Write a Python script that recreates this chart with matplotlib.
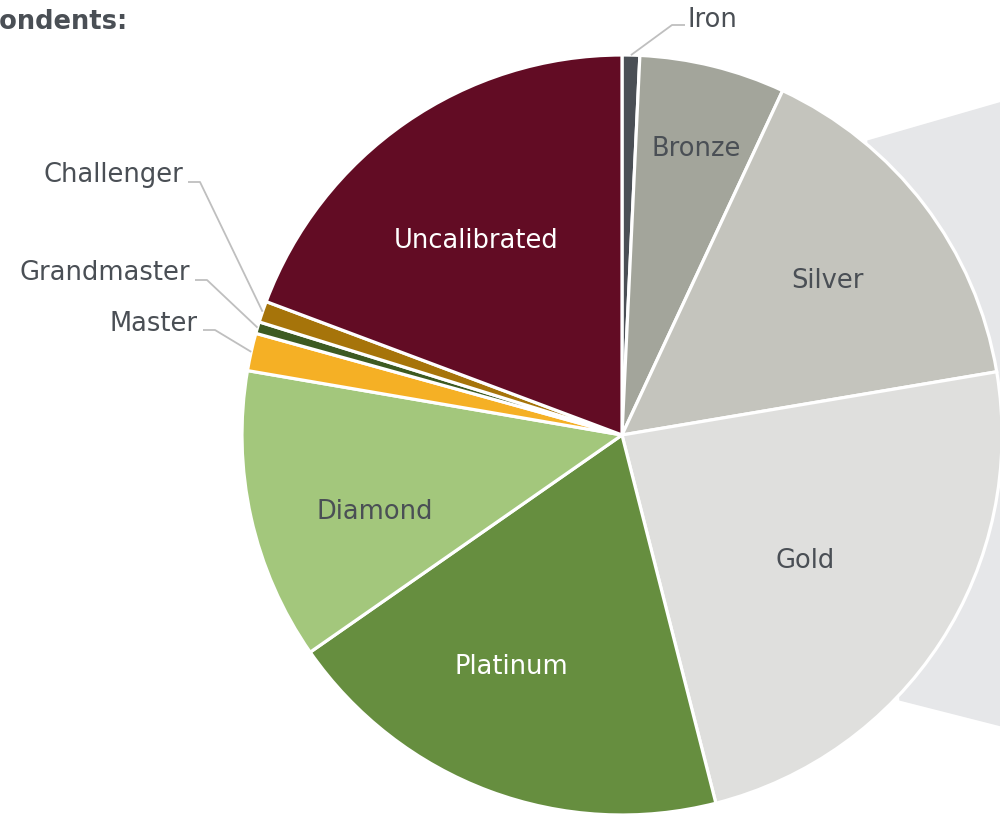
import numpy as np
import matplotlib.pyplot as plt

tiers = ["Iron", "Bronze", "Silver", "Gold", "Platinum", "Diamond",
         "Master", "Grandmaster", "Challenger", "Uncalibrated"]
shares = [0.75, 6.2, 15.4, 23.7, 19.3, 12.4, 1.6, 0.5, 0.9, 19.3]
colors = ["#4a4f55", "#a3a59b", "#c4c4bd", "#dfdfdd", "#668e3f", "#a3c77c",
          "#f5b025", "#3d5a22", "#a6740a", "#620c24"]
text_cols = ["#4a4f55", "#4a4f55", "#4a4f55", "#4a4f55", "white", "#4a4f55",
             "#4a4f55", "#4a4f55", "#4a4f55", "white"]

# inside labels: (radial fraction of radius, clockwise angle nudge in degrees)
inside = {"Bronze": (0.785, 0.6), "Silver": (0.68, 0.0), "Gold": (0.58, 0.8),
          "Platinum": (0.67, 5.3), "Diamond": (0.68, -4.0),
          "Uncalibrated": (0.645, -1.7)}
# outside labels: (text x, text y, elbow x, line y, align) in pixel coords
outside = {"Iron": (688, 18, 672, 25, "left"),
           "Challenger": (183, 173, 200, 182, "right"),
           "Grandmaster": (190, 271, 207, 280, "right"),
           "Master": (198, 322, 215, 330, "right")}

W, H = 1000, 818
cx, cy, R = 622, H - 435, 380
txt = "#4a4f55"
fs = 18.5

fig = plt.figure(figsize=(10, 8.18), dpi=100)
ax = fig.add_axes([0, 0, 1, 1])

# grey band behind pie (bar-of-pie connector)
ax.add_patch(plt.Polygon([(868, H - 141), (1010, H - 100), (1010, H - 728), (900, H - 700)],
                         closed=True, color="#e6e7e9", zorder=0))

wedges, _ = ax.pie(shares, colors=colors, startangle=90, counterclock=False,
                   center=(cx, cy), radius=R, frame=True,
                   wedgeprops=dict(edgecolor="white", linewidth=2.3))
for w in wedges:
    w.set_zorder(1)
ax.set_xlim(0, W)
ax.set_ylim(0, H)
ax.set_aspect("equal")
ax.axis("off")

for w, name, tc in zip(wedges, tiers, text_cols):
    if name in inside:
        frac, nudge = inside[name]
        ang = np.deg2rad((w.theta1 + w.theta2) / 2 - nudge)
        r = frac * R
        ax.text(cx + r * np.cos(ang), cy + r * np.sin(ang) - 3, name, color=tc,
                fontsize=fs, ha="center", va="center", zorder=3)
    else:
        ang = np.deg2rad((w.theta1 + w.theta2) / 2)
        tx, ty, ex, ly, ha = outside[name]
        px, py = cx + R * np.cos(ang), cy + R * np.sin(ang)
        sx = tx - 3 if ha == "left" else tx + 5
        ax.plot([px, ex, sx], [py, H - ly, H - ly], color="#bfbfbf", lw=1.3,
                zorder=2, solid_capstyle="butt")
        ax.text(tx, H - ty - 2, name, color=txt, fontsize=fs, ha=ha, va="center", zorder=3)

ax.text(128, H - 22, "Respondents:", color=txt, fontsize=fs, fontweight="bold",
        ha="right", va="center")

fig.savefig("out.png", dpi=100)
